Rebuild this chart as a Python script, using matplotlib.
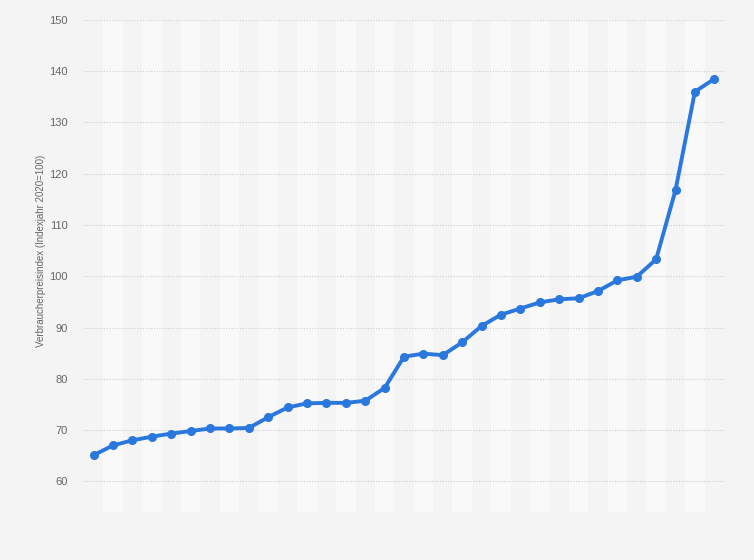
import matplotlib.pyplot as plt

# Verbraucherpreisindex, Werte
werte = [65.1, 67.0, 68.0, 68.7, 69.3, 69.8, 70.3, 70.3, 70.4, 72.5,
         74.4, 75.2, 75.3, 75.3, 75.7, 78.2, 84.3, 84.9, 84.6, 87.1,
         90.3, 92.5, 93.7, 94.9, 95.5, 95.7, 97.1, 99.2, 99.9, 103.3,
         116.8, 136.0, 138.5]
y_ticks = [60, 70, 80, 90, 100, 110, 120, 130, 140, 150]
y_label = 'Verbraucherpreisindex (Indexjahr 2020=100)'

bg = '#f4f4f4'
blau = '#2a78de'

plt.rcParams['font.family'] = ['Liberation Sans', 'DejaVu Sans']

fig = plt.figure(figsize=(7.54, 5.6), dpi=100, facecolor=bg)
ax = fig.add_axes([0.1114, 0.0857, 0.8488, 0.8786])
ax.set_facecolor(bg)

x = list(range(len(werte)))

# abwechselnde Streifen
for i in x:
    if i % 2 == 1:
        ax.axvspan(i - 0.5, i + 0.5, color='#f9f9f9', zorder=0, lw=0)

for t in y_ticks:
    ax.axhline(t, color='#cdcdcd', lw=0.8, ls=(0, (1, 1.5)), zorder=1)

ax.plot(x, werte, color=blau, lw=2.8, marker='o', markersize=5.5, zorder=3)

ax.set_xlim(-0.5, len(werte) - 0.5)
ax.set_ylim(54, 150)
ax.set_yticks(y_ticks)
ax.set_xticks([])
ax.tick_params(axis='y', length=0, pad=11.5, labelsize=8, labelcolor='#666666')
for s in ax.spines.values():
    s.set_visible(False)

ax.set_ylabel(y_label, fontsize=7, color='#666666')
ax.yaxis.set_label_coords(-0.059, 0.531)

fig.savefig('out.png', dpi=100, facecolor=bg)
